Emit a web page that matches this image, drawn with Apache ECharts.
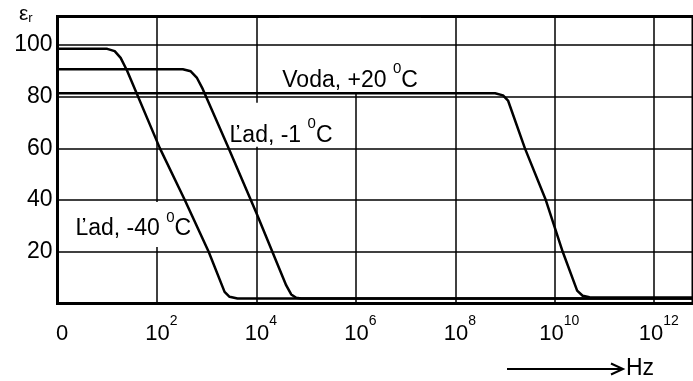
<!doctype html>
<html>
<head>
<meta charset="utf-8">
<title>Permitivita vody a ľadu</title>
<style>
html, body { margin: 0; padding: 0; background: #fff; }
#main { width: 693px; height: 381px; }
</style>
</head>
<body>
<div id="main"></div>
<script src="https://cdn.jsdelivr.net/npm/echarts@6/dist/echarts.min.js"></script>
<script>
var FONT = '"Liberation Sans", Arial, sans-serif';

// x = log10(f / Hz), y = relative permittivity
var iceMinus40 = [[0, 98.5], [1.0, 98.5], [1.15, 97.6], [1.27, 95], [1.4, 90], [2.06, 60], [2.56, 40],
    [3.04, 20], [3.36, 4.5], [3.46, 2.6], [3.62, 1.9], [12.8, 1.9]];
var iceMinus1 = [[0, 90.6], [2.52, 90.6], [2.68, 89.8], [2.8, 87.4], [2.92, 83], [3.42, 61], [4.0, 35],
    [4.6, 7], [4.7, 3.5], [4.8, 2.2], [4.9, 1.9], [12.8, 1.9]];
var water20 = [[0, 81.3], [8.8, 81.3], [8.96, 80.5], [9.06, 78.5], [9.4, 60], [9.82, 40], [10.16, 20],
    [10.45, 5], [10.56, 3], [10.7, 2.4], [10.85, 2.3], [12.8, 2.3]];

var curveNames = ['Voda, +20 ', 'Ľad, -1 ', 'Ľad, -40 '];
var curveNameAt = [[4.52, 87.7], [3.46, 66.4], [0.36, 30.4]];

var chart = echarts.init(document.getElementById('main'));

function lineSeries(data) {
    return {
        type: 'line',
        data: data,
        showSymbol: false,
        silent: true,
        smooth: false,
        lineStyle: { color: '#000', width: 2.5 },
        z: 3
    };
}

chart.setOption({
    animation: false,
    backgroundColor: '#fff',
    grid: {
        left: 57.5, right: -3, top: 16.5, bottom: 77.5,
        show: true, borderColor: '#000', borderWidth: 3, backgroundColor: 'transparent'
    },
    xAxis: {
        type: 'value',
        min: 0,
        max: 12.78,
        interval: 2,
        z: 0,
        axisLine: { show: false },
        axisTick: { show: false },
        splitLine: { show: true, lineStyle: { color: '#000', width: 1.5 } },
        axisLabel: {
            margin: 11,
            padding: [0, 0, 0, 9],
            showMaxLabel: false,
            formatter: function (v) {
                if (v === 0) return '{b|0}';
                if (v % 2 !== 0) return '';
                return '{b|10}{s|' + v + '}';
            },
            rich: {
                b: { fontFamily: FONT, fontSize: 22, color: '#000', lineHeight: 30, verticalAlign: 'bottom' },
                s: { fontFamily: FONT, fontSize: 14, color: '#000', lineHeight: 12, verticalAlign: 'top' }
            }
        }
    },
    yAxis: {
        type: 'value',
        min: 0,
        max: 111,
        interval: 20,
        z: 2,
        axisLine: { show: false },
        axisTick: { show: false },
        splitLine: { show: true, lineStyle: { color: '#000', width: 1.5 } },
        axisLabel: {
            margin: 5,
            fontFamily: FONT,
            fontSize: 23,
            color: '#000',
            formatter: function (v) {
                return (v > 0 && v % 20 === 0) ? String(v) : '';
            }
        }
    },
    series: [lineSeries(water20), lineSeries(iceMinus1), lineSeries(iceMinus40)]
});

// curve names sit in white boxes that break the vertical grid lines only
var boxPads = [[44, 3, 1, 3], [14, 2, 0, 2], [8, 2, 7, 2]];
var graphics = [];
curveNames.forEach(function (name, i) {
    var p = chart.convertToPixel({ gridIndex: 0 }, curveNameAt[i]);
    var pad = boxPads[i];
    graphics.push({
        type: 'text',
        x: p[0] - pad[3],
        y: p[1] - (pad[0] - pad[2]) / 2,
        z: 1,
        style: {
            text: '{b|' + name + '}{s|0}{b|C}',
            verticalAlign: 'middle',
            align: 'left',
            backgroundColor: '#fff',
            padding: pad,
            rich: {
                b: { fontFamily: FONT, fontSize: 23, fill: '#000', lineHeight: 30, verticalAlign: 'bottom' },
                s: { fontFamily: FONT, fontSize: 15, fill: '#000', lineHeight: 22, verticalAlign: 'top' }
            }
        }
    });
});

graphics.push({
    type: 'text',
    x: 19,
    y: 3,
    style: {
        text: '{e|ε}{r|r}',
        rich: {
            e: { fontFamily: FONT, fontSize: 21, fill: '#000', lineHeight: 22, verticalAlign: 'bottom' },
            r: { fontFamily: FONT, fontSize: 13, fill: '#000', lineHeight: 14, verticalAlign: 'bottom' }
        }
    }
});
graphics.push({
    type: 'line',
    shape: { x1: 507, y1: 369, x2: 621, y2: 369 },
    style: { stroke: '#000', lineWidth: 2 }
});
graphics.push({
    type: 'polyline',
    shape: { points: [[611, 363.5], [623, 369], [611, 374.5]] },
    style: { stroke: '#000', lineWidth: 2, fill: null }
});
graphics.push({
    type: 'text',
    x: 626,
    y: 369,
    style: { text: 'Hz', fontFamily: FONT, fontSize: 23, fill: '#000', verticalAlign: 'middle' }
});

chart.setOption({ graphic: graphics });

window.addEventListener('resize', function () {
    chart.resize();
});
</script>
</body>
</html>
